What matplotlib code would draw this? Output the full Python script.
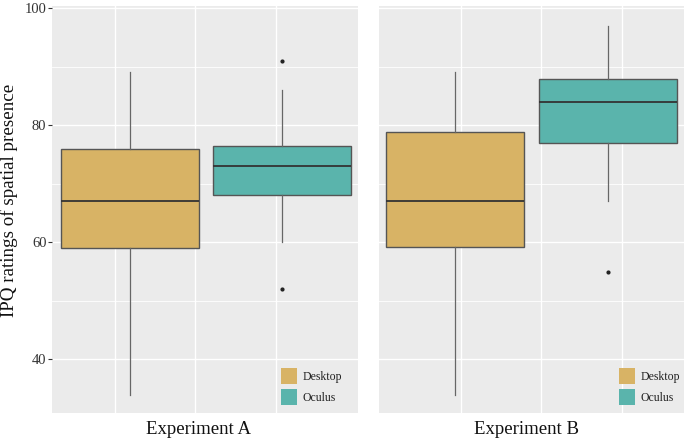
import matplotlib.pyplot as plt
import matplotlib.patches as mpatches

plt.rcParams['font.family'] = ['Liberation Serif', 'DejaVu Serif']

experiments = ['Experiment A', 'Experiment B']
devices = ['Desktop', 'Oculus']
colors = {'Desktop': '#D8B365', 'Oculus': '#5AB4AC'}

# box stats: [Desktop, Oculus] per experiment
whislo = {'Experiment A': [34, 60], 'Experiment B': [34, 67]}
q1 = {'Experiment A': [59, 68], 'Experiment B': [59.2, 77]}
med = {'Experiment A': [67, 73], 'Experiment B': [67, 84]}
q3 = {'Experiment A': [76, 76.5], 'Experiment B': [78.9, 87.8]}
whishi = {'Experiment A': [89, 86], 'Experiment B': [89, 97]}
fliers = {'Experiment A': [[], [52, 91]], 'Experiment B': [[], [55]]}

y_ticks = [40, 60, 80, 100]
y_minor = [50, 70, 90]

fig = plt.figure(figsize=(6.85, 4.41), dpi=100)
W, H = 685, 441
panels = {
    'Experiment A': dict(rect=(52, 6, 306, 407), pos=[0.256, 0.752],
                         grid=[0.206, 0.467, 0.732], lab=198, leg=0.748),
    'Experiment B': dict(rect=(379, 6, 305, 407), pos=[0.249, 0.751],
                         grid=[0.269, 0.531, 0.797], lab=526, leg=0.787),
}

for i, exp in enumerate(experiments):
    p = panels[exp]
    x0, y0, w, h = p['rect']
    ax = fig.add_axes([x0 / W, 1 - (y0 + h) / H, w / W, h / H])
    ax.set_facecolor('#EBEBEB')
    for s in ax.spines.values():
        s.set_visible(False)
    ax.set_xlim(0, 1)
    ax.set_ylim(30.85, 100.35)
    for g in p['grid']:
        ax.axvline(g, color='white', lw=1.0, zorder=0)
    for y in y_ticks:
        ax.axhline(y, color='white', lw=1.0, zorder=0)
    for y in y_minor:
        ax.axhline(y, color='white', lw=0.6, zorder=0)

    stats = []
    for j, d in enumerate(devices):
        stats.append(dict(whislo=whislo[exp][j], q1=q1[exp][j], med=med[exp][j],
                          q3=q3[exp][j], whishi=whishi[exp][j], fliers=fliers[exp][j]))
    bp = ax.bxp(stats, positions=p['pos'], widths=0.45, patch_artist=True,
                showcaps=False, manage_ticks=False,
                boxprops=dict(edgecolor='#555555', lw=1.0),
                medianprops=dict(color='#333333', lw=1.3),
                whiskerprops=dict(color='#666666', lw=0.9),
                flierprops=dict(marker='o', markersize=2.0, markerfacecolor='#222222',
                                markeredgecolor='#222222'))
    for patch, d in zip(bp['boxes'], devices):
        patch.set_facecolor(colors[d])
        patch.set_zorder(2)

    ax.set_xticks([])
    if i == 0:
        ax.set_yticks(y_ticks)
        ax.tick_params(axis='y', labelsize=10.5, length=3, color='#333333',
                       labelcolor='#333333', pad=1)
    else:
        ax.set_yticks([])

    # legend inside panel
    handles = [mpatches.Patch(facecolor=colors[d], edgecolor='none', label=d)
               for d in devices]
    leg = ax.legend(handles=handles, loc='lower left', frameon=False,
                    fontsize=8.5, handlelength=1.36, handleheight=1.7,
                    handletextpad=0.45, labelspacing=0.42, borderpad=0,
                    borderaxespad=0, bbox_to_anchor=(p['leg'], 0.02))
    for t in leg.get_texts():
        t.set_color('#222222')

    fig.text(p['lab'] / W, 1 - 429 / H, exp, ha='center', va='center',
             fontsize=13.5, color='#111111')

fig.text(9 / W, 1 - 200 / H, 'IPQ ratings of spatial presence', rotation=90,
         ha='center', va='center', fontsize=13.7, color='#111111')

fig.savefig('out.png', dpi=100)
